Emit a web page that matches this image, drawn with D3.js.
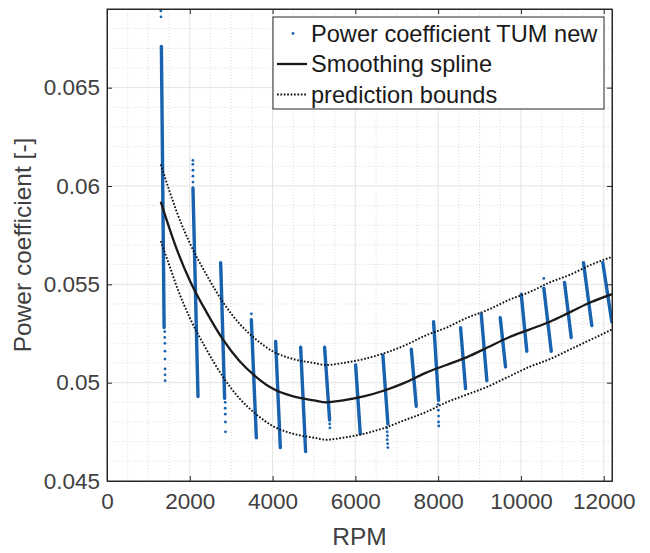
<!DOCTYPE html>
<html>
<head>
<meta charset="utf-8">
<script src="https://cdn.jsdelivr.net/npm/d3@7"></script>
<style>
  body { margin: 0; background: #fff; }
  text { font-family: "Liberation Sans", Arial, sans-serif; }
</style>
</head>
<body>
<div class="chart"></div>
<script>
// smoothing spline + prediction bounds
const splineRpm = [1300, 1500, 1700, 2000, 2400, 2800, 3200, 3600, 4000, 4500, 5000, 5300, 5700,
    6200, 6700, 7200, 7700, 8200, 8700, 9200, 9700, 10200, 10700, 11200, 11700, 12200];
const splineCp = [0.0592, 0.0579, 0.0567, 0.0552, 0.0536, 0.0522, 0.0511, 0.0503, 0.0497, 0.0493, 0.0491, 0.0490, 0.0491,
    0.0493, 0.0496, 0.0500, 0.0505, 0.0509, 0.0513, 0.0518, 0.0523, 0.0527, 0.0531, 0.0536, 0.0541, 0.0545];
const upperCp = [0.0611, 0.0598, 0.0586, 0.0571, 0.0555, 0.0541, 0.0530, 0.0522, 0.0516, 0.0512, 0.0510, 0.0509, 0.0510,
    0.0512, 0.0515, 0.0519, 0.0524, 0.0528, 0.0533, 0.0537, 0.0542, 0.0546, 0.0551, 0.0555, 0.0560, 0.0564];
const lowerCp = [0.0572, 0.0560, 0.0548, 0.0533, 0.0517, 0.0503, 0.0492, 0.0484, 0.0478, 0.0474, 0.0472, 0.0471, 0.0472,
    0.0474, 0.0477, 0.0481, 0.0485, 0.0490, 0.0494, 0.0498, 0.0503, 0.0508, 0.0512, 0.0517, 0.0522, 0.0527];

// measured clusters (dense part): top end and bottom end of each slanted strip
const clusterRpmTop = [1314, 2077, 2746, 3487, 4074, 4678, 5257, 6006, 6665, 7351, 7889, 8542, 9041, 9500, 10007, 10553, 11053, 11512, 11978];
const clusterRpmBottom = [1380, 2198, 2842, 3608, 4187, 4798, 5378, 6119, 6786, 7472, 8010, 8662, 9177, 9628, 10142, 10732, 11215, 11712, 12195];
const clusterCpTop = [0.0671, 0.0599, 0.0561, 0.0532, 0.0521, 0.0518, 0.0518, 0.0509, 0.0514, 0.0517, 0.0531, 0.0528, 0.0535, 0.0533, 0.0545, 0.0548, 0.0551, 0.0561, 0.0561];
const clusterCpBottom = [0.0528, 0.0493, 0.0492, 0.0472, 0.0467, 0.0465, 0.0481, 0.0474, 0.0479, 0.0488, 0.0491, 0.0497, 0.0501, 0.0508, 0.0516, 0.0516, 0.0523, 0.0529, 0.0531];

// sparse points outside the dense strips
const outlierRpm = [1300, 1305, 1395, 1396, 1398, 1400, 1400, 1403, 1403, 1405,
    2075, 2075, 2077, 2077, 2078, 2855, 2855, 2858, 2860, 2862, 3487,
    5380, 5385, 6760, 6770, 6775, 6770, 6780, 6785, 8000, 8005, 8010, 8010, 8015, 10553];
const outlierCp = [0.0689, 0.0686, 0.0526, 0.0523, 0.0520, 0.0516, 0.0512, 0.0507, 0.0504, 0.0501,
    0.0613, 0.0611, 0.0608, 0.0605, 0.0602, 0.0490, 0.0487, 0.0484, 0.0480, 0.0475, 0.0535,
    0.0479, 0.0477, 0.0477, 0.0475, 0.0473, 0.0471, 0.0469, 0.0467, 0.0489, 0.0486, 0.0483, 0.0480, 0.0478, 0.0553];

const xTicks = [0, 2000, 4000, 6000, 8000, 10000, 12000];
const yTicks = [0.045, 0.05, 0.055, 0.06, 0.065];
const legendLabels = ["Power coefficient TUM new", "Smoothing spline", "prediction bounds"];

const margin = { top: 9, right: 38, bottom: 72, left: 107 };
const width = 650 - margin.left - margin.right;
const height = 553 - margin.top - margin.bottom;
const blue = "#1862b0";
const axisColor = "#262626";
const textColor = "#404040";

const svg = d3.select(".chart")
    .append("svg")
    .attr("width", 650)
    .attr("height", 553)
    .append("g")
    .attr("transform", "translate(" + margin.left + "," + margin.top + ")");

const x = d3.scaleLinear().domain([0, 12200]).range([0, width]);
const y = d3.scaleLinear().domain([0.045, 0.069]).range([height, 0]);

// grid: minor dotted, major solid
const xMinor = d3.range(500, 12200, 500).filter(v => v % 2000 !== 0);
const yMinor = d3.range(46, 69).map(v => v / 1000).filter(v => yTicks.indexOf(v) < 0);

svg.append("g").selectAll("line")
    .data(xMinor).enter().append("line")
    .attr("x1", d => x(d)).attr("x2", d => x(d))
    .attr("y1", 0).attr("y2", height)
    .attr("stroke", "#d4d4d4").attr("stroke-width", 0.8)
    .attr("stroke-dasharray", "1,2");
svg.append("g").selectAll("line")
    .data(yMinor).enter().append("line")
    .attr("y1", d => y(d)).attr("y2", d => y(d))
    .attr("x1", 0).attr("x2", width)
    .attr("stroke", "#d4d4d4").attr("stroke-width", 0.8)
    .attr("stroke-dasharray", "1,2");
svg.append("g").selectAll("line")
    .data(xTicks.slice(1)).enter().append("line")
    .attr("x1", d => x(d)).attr("x2", d => x(d))
    .attr("y1", 0).attr("y2", height)
    .attr("stroke", "#e3e3e3").attr("stroke-width", 1);
svg.append("g").selectAll("line")
    .data(yTicks.slice(1)).enter().append("line")
    .attr("y1", d => y(d)).attr("y2", d => y(d))
    .attr("x1", 0).attr("x2", width)
    .attr("stroke", "#e3e3e3").attr("stroke-width", 1);

const plot = svg.append("g");
svg.append("clipPath").attr("id", "clip")
    .append("rect").attr("width", width).attr("height", height);
plot.attr("clip-path", "url(#clip)");

// scatter clusters
plot.selectAll(".strip")
    .data(clusterRpmTop.map((r, i) => i))
    .enter().append("line")
    .attr("class", "strip")
    .attr("x1", i => x(clusterRpmTop[i]))
    .attr("y1", i => y(clusterCpTop[i]))
    .attr("x2", i => x(clusterRpmBottom[i]))
    .attr("y2", i => y(clusterCpBottom[i]))
    .attr("stroke", blue)
    .attr("stroke-width", 3.4)
    .attr("stroke-linecap", "round");

plot.selectAll(".dot")
    .data(outlierRpm.map((r, i) => i))
    .enter().append("circle")
    .attr("class", "dot")
    .attr("cx", i => x(outlierRpm[i]))
    .attr("cy", i => y(outlierCp[i]))
    .attr("r", 1.4)
    .attr("fill", blue);

// spline and bounds
const line = (vals) => d3.line()
    .x((d, i) => x(splineRpm[i]))
    .y(d => y(d))
    .curve(d3.curveMonotoneX)(vals);

plot.append("path")
    .attr("d", line(upperCp))
    .attr("fill", "none").attr("stroke", "#111")
    .attr("stroke-width", 1.9).attr("stroke-dasharray", "1.7,1.7");
plot.append("path")
    .attr("d", line(lowerCp))
    .attr("fill", "none").attr("stroke", "#111")
    .attr("stroke-width", 1.9).attr("stroke-dasharray", "1.7,1.7");
plot.append("path")
    .attr("d", line(splineCp))
    .attr("fill", "none").attr("stroke", "#1a1a1a")
    .attr("stroke-width", 2.3);

// axes (ticks point inward, box on)
svg.append("g")
    .attr("transform", "translate(0," + height + ")")
    .call(d3.axisBottom(x).tickValues(xTicks).tickFormat(d3.format("d"))
        .tickSizeInner(-5).tickSizeOuter(0).tickPadding(12));
svg.append("g")
    .call(d3.axisLeft(y).tickValues(yTicks).tickFormat(d3.format("~g"))
        .tickSizeInner(-5).tickSizeOuter(0).tickPadding(7));
svg.append("g")
    .call(d3.axisTop(x).tickValues(xTicks).tickFormat("").tickSizeInner(-5).tickSizeOuter(0));
svg.append("g")
    .attr("transform", "translate(" + width + ",0)")
    .call(d3.axisRight(y).tickValues(yTicks).tickFormat("").tickSizeInner(-5).tickSizeOuter(0));

svg.selectAll(".domain").attr("stroke", axisColor);
svg.selectAll(".tick line").attr("stroke", axisColor);
svg.selectAll(".tick text")
    .attr("fill", textColor)
    .style("font-size", "22.5px");

svg.append("rect")
    .attr("width", width).attr("height", height)
    .attr("fill", "none").attr("stroke", axisColor).attr("stroke-width", 1);

// axis titles
svg.append("text")
    .attr("x", width / 2).attr("y", height + 64)
    .attr("text-anchor", "middle")
    .attr("fill", textColor)
    .style("font-size", "24.5px")
    .text("RPM");
svg.append("text")
    .attr("transform", "translate(" + (31 - margin.left) + "," + (height / 2) + ") rotate(-90)")
    .attr("text-anchor", "middle")
    .attr("fill", textColor)
    .style("font-size", "24.5px")
    .text("Power coefficient [-]");

// legend
const lg = svg.append("g").attr("transform", "translate(" + (273 - margin.left) + "," + (17 - margin.top) + ")");
lg.append("rect")
    .attr("width", 331).attr("height", 92)
    .attr("fill", "#fff").attr("stroke", axisColor).attr("stroke-width", 1);
const rowY = [16.5, 47, 77.5];
lg.append("circle").attr("cx", 20).attr("cy", rowY[0]).attr("r", 1.4).attr("fill", blue);
lg.append("line").attr("x1", 4).attr("x2", 34).attr("y1", rowY[1]).attr("y2", rowY[1])
    .attr("stroke", "#1a1a1a").attr("stroke-width", 2.3);
lg.append("line").attr("x1", 4).attr("x2", 34).attr("y1", rowY[2]).attr("y2", rowY[2])
    .attr("stroke", "#111").attr("stroke-width", 1.9).attr("stroke-dasharray", "1.7,1.7");
lg.selectAll(".lt")
    .data(legendLabels).enter().append("text")
    .attr("class", "lt")
    .attr("x", 38)
    .attr("y", (d, i) => rowY[i])
    .attr("dy", "0.35em")
    .attr("fill", "#1a1a1a")
    .style("font-size", "23.6px")
    .text(d => d);
</script>
</body>
</html>
